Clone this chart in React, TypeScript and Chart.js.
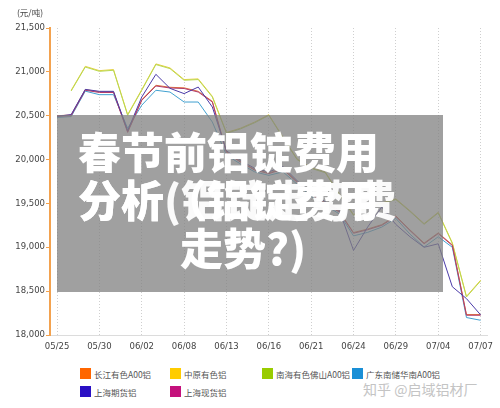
import { useEffect, useRef } from 'react';
import { Chart, registerables } from 'chart.js';

Chart.register(...registerables);

const categories = [
  '05/25', '05/26', '05/27', '05/30', '05/31', '06/01', '06/02', '06/03', '06/06', '06/08',
  '06/09', '06/12', '06/13', '06/14', '06/15', '06/16', '06/17', '06/20', '06/21', '06/22',
  '06/23', '06/24', '06/27', '06/28', '06/29', '06/30', '07/01', '07/04', '07/05', '07/06', '07/07',
];

const yTicks = [18000, 18500, 19000, 19500, 20000, 20500, 21000, 21500];

const changjiang = [20500, 20508, 20798, 20772, 20772, 20318, 20683, 20847, 20824, 20818, 20778, 20664, 20088, 19978, 19888, 19848, 19898, 19748, 19608, 19508, 19408, 19168, 19208, 19258, 19358, 19198, 19048, 19164, 19028, 18233, 18233];
const zhongyuan = [null, 20790, 21063, 21014, 21026, 20513, 20798, 21091, 21045, 20912, 20920, 20721, 20308, 20358, 20428, 20512, 20258, 20008, 19908, 19858, 19608, 19373, 19464, 19506, 19552, 19416, 19270, 19399, 19051, 18441, 18624];
const nanhai = [null, 20782, 21055, 21006, 21018, 20505, 20790, 21083, 21037, 20904, 20912, 20713, 20300, 20350, 20420, 20504, 20250, 20000, 19900, 19850, 19600, 19365, 19456, 19498, 19544, 19408, 19262, 19391, 19043, 18433, 18616];
const guangdong = [20480, 20490, 20780, 20740, 20740, 20356, 20620, 20790, 20770, 20656, 20656, 20428, 20050, 19950, 19860, 19820, 19860, 19720, 19580, 19480, 19380, 19130, 19170, 19230, 19330, 19150, 19003, 19120, 19000, 18199, 18168];
const shfe = [20493, 20513, 20800, 20778, 20778, 20330, 20713, 20972, 20812, 20752, 20827, 20599, 20100, 19990, 19900, 19860, 19920, 19760, 19620, 19520, 19420, 18964, 19230, 19459, 19260, 19120, 19000, 19040, 18550, 18415, 18230];
const shSpot = [20493, 20500, 20790, 20765, 20765, 20310, 20675, 20839, 20816, 20810, 20770, 20656, 20080, 19970, 19880, 19840, 19890, 19740, 19600, 19500, 19400, 19160, 19200, 19250, 19350, 19190, 19040, 19156, 19020, 18225, 18225];

const seriesNames = ['长江有色A00铝', '中原有色铝', '南海有色佛山A00铝', '广东南储华南A00铝', '上海期货铝', '上海现货铝'];
const seriesColors = ['#ff6600', '#ffcc00', '#99cc00', '#1a8fd6', '#2a10c4', '#c4117c'];
const lineColors = ['#e0703a', '#e8d040', '#b8d850', '#40a0d0', '#4a3aa8', '#b03a6a'];
const seriesData = [changjiang, zhongyuan, nanhai, guangdong, shfe, shSpot];

const legendRows = [
  [0, 1, 2, 3],
  [4, 5],
];
const legendCols = [80, 170, 262, 352];
const legendRowTops = [368, 386];

export default function App() {
  const ref = useRef<HTMLCanvasElement>(null);

  useEffect(() => {
    document.body.style.margin = '0';
    const canvas = ref.current;
    if (!canvas) return;
    const drawOrder = [4, 5, 0, 3, 2, 1];
    const chart = new Chart(canvas, {
      type: 'line',
      data: {
        labels: categories,
        datasets: drawOrder.map((k) => ({
          label: seriesNames[k],
          data: seriesData[k],
          borderColor: lineColors[k],
          backgroundColor: seriesColors[k],
          borderWidth: 1,
          pointRadius: 0,
          tension: 0,
          fill: false,
        })),
      },
      options: {
        responsive: false,
        animation: false,
        layout: { padding: { top: 28, right: 11, bottom: 5, left: 0 } },
        plugins: {
          legend: { display: false },
          tooltip: { enabled: false },
          title: { display: false },
        },
        scales: {
          x: {
            type: 'category',
            offset: true,
            grid: {
              color: (ctx: any) => (ctx.index % 3 === 0 ? '#cfcfcf' : 'rgba(0,0,0,0)'),
              drawTicks: false,
              lineWidth: 1,
            },
            border: { display: true, color: '#dcdcdc', width: 1, dash: [1, 2] },
            ticks: {
              autoSkip: false,
              maxRotation: 0,
              minRotation: 0,
              padding: 7,
              color: '#444',
              font: { family: 'DejaVu Sans', size: 8.5 },
              callback: (_v: any, i: number) => (i % 3 === 0 ? categories[i] : ''),
            },
            afterFit: (scale: any) => {
              scale.height = 20;
            },
          },
          y: {
            min: yTicks[0],
            max: yTicks[yTicks.length - 1],
            afterBuildTicks: (scale: any) => {
              scale.ticks = yTicks.map((v) => ({ value: v }));
            },
            grid: {
              drawOnChartArea: false,
              drawTicks: true,
              tickLength: 4,
              tickColor: '#f3a24f',
              color: '#f3a24f',
            },
            border: { display: true, color: '#f3a24f', width: 2 },
            ticks: {
              padding: 1,
              color: '#444',
              font: { family: 'DejaVu Sans', size: 8.5 },
              callback: (v: any) => Number(v).toLocaleString('en-US'),
            },
            afterFit: (scale: any) => {
              scale.width = 50;
            },
          },
        },
      },
    });
    return () => chart.destroy();
  }, []);

  const titleStyle: any = {
    position: 'absolute',
    color: '#fff',
    fontFamily: '"Noto Sans CJK SC", sans-serif',
    fontWeight: 900,
    fontSize: 43,
    lineHeight: '48px',
    whiteSpace: 'nowrap',
  };

  return (
    <div style={{ position: 'relative', width: 500, height: 408, background: '#fff', overflow: 'hidden' }}>
      <canvas ref={ref} width={500} height={360} style={{ position: 'absolute', left: 0, top: 0 }} />
      <div
        style={{
          position: 'absolute',
          left: 17,
          top: 6,
          fontFamily: '"Noto Sans CJK SC", sans-serif',
          fontSize: 8.5,
          color: '#444',
        }}
      >
        (元/吨)
      </div>
      <div
        style={{
          position: 'absolute',
          left: 57,
          top: 115,
          width: 386,
          height: 177,
          background: 'rgba(128,128,128,0.75)',
        }}
      />
      <div style={{ ...titleStyle, left: 78, top: 126 }}>春节前铝锭费用</div>
      <div style={{ ...titleStyle, left: 78, top: 174 }}>分析（铝锭费用</div>
      <div style={{ ...titleStyle, left: 78, top: 174, opacity: 0.95 }}>分析(铝锭走势费</div>
      <div style={{ ...titleStyle, left: 180, top: 222 }}>走势?)</div>
      {legendRows.map((row, r) =>
        row.map((k, c) => (
          <div
            key={k}
            style={{
              position: 'absolute',
              left: legendCols[c],
              top: legendRowTops[r],
              height: 11,
              display: 'flex',
              alignItems: 'center',
              whiteSpace: 'nowrap',
            }}
          >
            <span style={{ display: 'inline-block', width: 11, height: 11, background: seriesColors[k] }} />
            <span
              style={{
                marginLeft: 3,
                fontFamily: '"Noto Sans CJK SC", sans-serif',
                fontSize: 8.5,
                color: '#555',
              }}
            >
              {seriesNames[k]}
            </span>
          </div>
        ))
      )}
      <div
        style={{
          position: 'absolute',
          left: 363,
          top: 379,
          fontFamily: '"Noto Sans CJK SC", sans-serif',
          fontSize: 14,
          color: '#c4c4c4',
          whiteSpace: 'nowrap',
        }}
      >
        知乎 @启域铝材厂
      </div>
    </div>
  );
}
